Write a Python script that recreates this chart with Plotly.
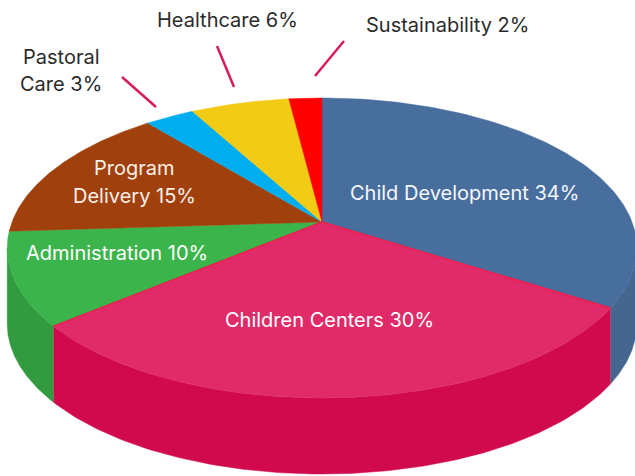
import numpy as np
import plotly.graph_objects as go

# ---- data ----
categories = ["Child Development", "Children Centers", "Administration", "Program Delivery",
              "Pastoral Care", "Healthcare", "Sustainability"]
shares = [34, 30, 10, 15, 3, 6, 2]
top_colors = ["#486E9D", "#E12B68", "#3BB54B", "#A0410D", "#00AEEF", "#F2CB15", "#FF0000"]
wall_colors = ["#44668F", "#D10A4E", "#329B3F", "#8A380B", "#0096CE", "#D1AF12", "#DD0000"]

label_lines = [
    ("Child Development 34%", 464, 193, "#F4F7FB"),
    ("Children Centers 30%", 329, 320, "#FFFFFF"),
    ("Administration 10%", 117, 253, "#FFFFFF"),
    ("Program", 134, 168, "#FBEFE8"),
    ("Delivery 15%", 134, 196, "#FBEFE8"),
    ("Healthcare 6%", 227, 20, "#2B2B2B"),
    ("Sustainability 2%", 447, 25, "#2B2B2B"),
    ("Pastoral", 61, 57, "#2B2B2B"),
    ("Care 3%", 61, 84, "#2B2B2B"),
]
leaders = [((122, 77), (156, 107)), ((217, 46), (234, 87)), ((344, 41), (315, 76))]

# ---- projection of the flat pie disc (perspective view) ----
CX, CY = 322, 222
A, C, D = 145.5, 0.1733, 310
DEPTH = 76
HIGHLIGHT = "#EE1F4F"


def project(theta):
    u, v = np.sin(theta), np.cos(theta)
    den = 1 + C * v
    return CX + D * u / den, CY - A * v / den


fig = go.Figure()
edges = np.cumsum([0] + shares) / sum(shares) * 2 * np.pi
wall_start = np.arccos(-C)                 # right-hand silhouette point of the disc
wall_end = 2 * np.pi - wall_start          # left-hand silhouette point

# outer walls: only the part of each slice that faces the viewer
for s, e, col in zip(edges[:-1], edges[1:], wall_colors):
    a, b = max(s, wall_start), min(e, wall_end)
    if a >= b:
        continue
    x, y = project(np.linspace(a, b, 120))
    fig.add_trace(go.Scatter(
        x=np.r_[x, x[::-1]], y=np.r_[y, y[::-1] + DEPTH], mode="lines",
        fill="toself", fillcolor=col, line=dict(width=0.5, color=col), hoverinfo="skip"))

# top faces
for s, e, col, name in zip(edges[:-1], edges[1:], top_colors, categories):
    x, y = project(np.linspace(s, e, 120))
    fig.add_trace(go.Scatter(
        x=np.r_[CX, x, CX], y=np.r_[CY, y, CY], mode="lines", name=name,
        fill="toself", fillcolor=col, line=dict(width=0.5, color=col)))

# bright seams along the two radial edges of the crimson slice
for e in edges[1:3]:
    px, py = project(np.array([e]))
    fig.add_trace(go.Scatter(x=[CX, px[0]], y=[CY, py[0]], mode="lines",
                             line=dict(width=1.5, color=HIGHLIGHT), hoverinfo="skip"))

for text, lx, ly, col in label_lines:
    fig.add_annotation(x=lx, y=ly, text=text, showarrow=False, xanchor="center", yanchor="middle",
                       font=dict(family="Inter", size=20, color=col))

shapes = [dict(type="line", x0=a[0], y0=a[1], x1=b[0], y1=b[1], xref="x", yref="y",
               line=dict(color="#D81B5C", width=2.5)) for a, b in leaders]

fig.update_layout(
    width=635, height=476, margin=dict(l=0, r=0, t=0, b=0), showlegend=False,
    paper_bgcolor="white", plot_bgcolor="white", shapes=shapes,
    xaxis=dict(visible=False, range=[0, 635], fixedrange=True),
    yaxis=dict(visible=False, range=[476, 0], fixedrange=True),
)
fig.write_html("out.html", config={"displayModeBar": False},
               post_script="document.body.style.margin='0';document.documentElement.style.overflow='hidden';")
